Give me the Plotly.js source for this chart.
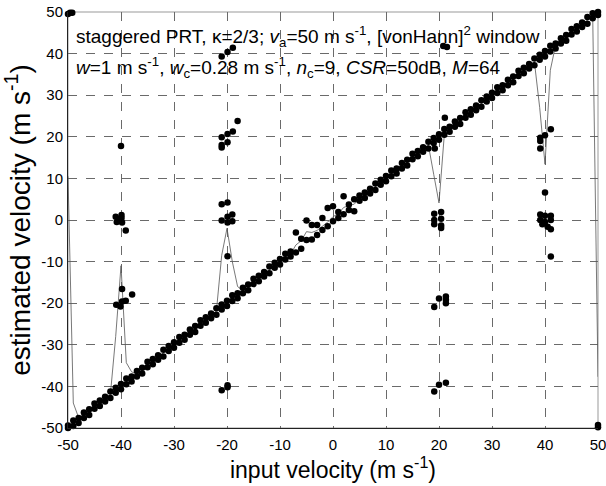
<!DOCTYPE html>
<html>
<head>
<meta charset="utf-8">
<script src="https://cdn.plot.ly/plotly-3.0.1.min.js"></script>
<style>html,body{margin:0;padding:0;background:#fff;}#chart{width:606px;height:486px;}</style>
</head>
<body>
<div id="chart"></div>
<script>
// Input velocities of the main (correct) estimates, m/s
const diagX = [-50,-49,-48,-47,-46,-45,-44,-43,-42,-41,-40,-39,-38,-37,-36,-35,-34,-33,-32,-31,-30,-29,-28,-27,-26,-25,-24,-23,-22,-21,-20,-19,-18,-17,-16,-15,-14,-13,-12,-11,-10,-9,-8,-7,-6,-5,-4,-3,-2,-1,0,1,2,3,4,5,6,7,8,9,10,11,12,13,14,15,16,17,18,19,20,21,22,23,24,25,26,27,28,29,30,31,32,33,34,35,36,37,38,39,40,41,42,43,44,45,46,47,48,49,50];
// Lower and upper estimated velocities of each cluster, m/s
const diagLo = [-50.0,-49.5,-48.8,-47.6,-46.9,-45.4,-44.7,-43.6,-42.8,-41.5,-40.7,-39.5,-38.8,-37.6,-36.9,-35.4,-34.7,-33.6,-32.8,-31.5,-30.7,-29.5,-28.8,-27.6,-26.9,-25.4,-24.7,-23.6,-22.8,-21.5,-20.7,-19.5,-18.8,-17.6,-16.9,-15.4,-14.7,-13.6,-12.8,-11.5,-10.7,-9.5,-8.8,-7.8,-6.9,-4.8,-4.7,-3.6,-2.4,-1.5,-0.3,0.5,1.4,2.4,2.1,4.6,5.3,6.4,7.2,8.5,9.3,10.5,11.2,12.4,13.1,14.6,15.3,16.4,17.2,18.5,19.3,20.5,21.2,22.4,23.1,24.6,25.3,26.4,27.2,28.5,29.3,30.5,31.2,32.4,33.1,34.6,35.3,36.4,37.2,38.5,39.3,40.5,41.2,42.4,43.1,44.6,45.3,46.4,47.2,48.5,49.3];
const diagHi = [-49.4,-48.2,-47.6,-46.3,-45.5,-44.1,-43.4,-42.5,-41.2,-40.3,-39.4,-38.1,-37.6,-36.3,-35.5,-34.1,-33.4,-32.5,-31.2,-30.3,-29.4,-28.1,-27.6,-26.3,-25.5,-24.1,-23.4,-22.5,-21.2,-20.3,-19.4,-18.1,-17.6,-16.3,-15.5,-14.1,-13.4,-12.5,-11.2,-10.3,-9.4,-8.1,-7.6,-3.0,-4.5,-0.1,-1.2,-1.2,0.5,2.9,3.3,1.9,5.7,3.7,5.0,5.9,6.6,7.5,8.8,9.7,10.6,11.9,12.4,13.7,14.5,15.9,16.6,17.5,18.8,19.7,20.6,21.9,22.4,23.7,24.5,25.9,26.6,27.5,28.8,29.7,30.6,31.9,32.4,33.7,34.5,35.9,36.6,37.5,38.8,39.7,40.6,41.9,42.4,43.7,44.5,45.9,46.6,47.5,48.8,49.7,50.0];
// Aliased / wrong estimates (input, estimate), m/s
const outX = [-50.0,-49.6,-49.2,
  -40.0,-41.0,-40.8,-40.3,-39.9,-39.8,-39.9,-39.1,-39.8,-40.9,-40.1,-39.8,-39.1,-37.9,
  -21.0,-19.9,-18.9,-18.0,-18.9,-19.9,-21.0,-21.0,-21.0,-19.9,-21.0,-19.9,-21.0,-19.9,-19.9,-19.0,-19.0,-19.9,-21.0,-19.9,-19.9,
  20.8,21.5,19.2,21.1,19.1,20.4,19.1,20.4,19.1,20.4,20.4,19.1,20.0,21.3,21.3,21.3,19.1,20.0,21.3,
  39.1,39.1,39.1,40.0,41.1,40.0,39.1,40.0,41.1,39.1,40.0,41.1,39.5,40.5,41.1,41.1,
  50.0,50.0];
const outY = [49.5,49.8,49.8,
  17.8,0.8,-0.5,0.2,1.2,-0.6,0.5,-2.5,-16.6,-20.4,-20.8,-19.6,-19.4,-17.9,
  39.3,40.4,41.4,23.8,21.3,20.7,19.9,18.0,17.4,18.7,3.8,4.2,-0.1,0.8,-0.6,1.3,-0.3,-8.7,-40.9,-39.7,-40.2,
  41.8,41.6,17.2,24.6,1.5,1.9,0.0,0.3,-1.0,-1.3,-1.9,-20.9,-18.9,-18.4,-19.2,-20.0,-41.2,-39.6,-39.1,
  19.8,19.0,17.2,20.4,21.8,6.6,1.3,1.0,1.0,0.0,-0.5,0.0,-1.0,-1.6,-2.2,-8.8,
  -49.3,-49.8];
// Mean estimated velocity (thin line), m/s
const meanX = diagX;
const meanY = [10.5,-44.0,-47.5,-46.9,-46.2,-44.8,-44.0,-43.0,-41.9,-28.0,-11.0,-34.3,-36.5,-37.0,-36.2,-34.8,-34.0,-33.0,-32.0,-30.9,-30.0,-28.8,-28.2,-27.0,-26.2,-24.8,-24.0,-23.0,-21.9,-8.5,-2.0,-10.0,-16.0,-17.0,-16.2,-14.8,-14.0,-13.0,-12.0,-10.9,-10.0,-8.8,-8.2,-6.0,-5.0,-2.8,-3.0,-2.5,-1.5,-0.5,0.8,1.5,3.0,3.5,3.8,5.2,5.9,7.0,8.0,9.1,10.0,11.2,11.8,13.0,13.8,15.2,16.0,17.0,18.0,11.0,4.1,20.5,22.0,23.0,23.8,25.2,26.0,27.0,28.0,29.1,30.0,31.2,31.8,33.0,33.8,35.2,36.0,37.0,38.0,27.0,13.4,36.0,42.0,43.0,43.8,45.2,46.0,47.0,48.0,49.3,-37.7];
const ticks = [-50,-40,-30,-20,-10,0,10,20,30,40,50];
const tickText = ['-50','-40','-30','-20','-10','0','10','20','30','40','50'];

const ptsX = [], ptsY = [];
for (let i = 0; i < diagX.length; i++) {
  ptsX.push(diagX[i], diagX[i]); ptsY.push(diagLo[i], diagHi[i]);
}
for (let i = 0; i < outX.length; i++) { ptsX.push(outX[i]); ptsY.push(outY[i]); }

const FONT = 'Liberation Sans, Arial, Helvetica, sans-serif';
const traces = [
  {x: meanX, y: meanY, type: 'scatter', mode: 'lines', line: {color: '#555', width: 0.8}, hoverinfo: 'skip', cliponaxis: false},
  {x: ptsX, y: ptsY, type: 'scatter', mode: 'markers', marker: {color: '#000', size: 6.5}, cliponaxis: false}
];
const axisCommon = {
  range: [-50, 50], tickvals: ticks, ticktext: tickText, showgrid: true,
  gridcolor: '#6a6a6a', griddash: 'dash', gridwidth: 1, zeroline: false,
  showline: true, linecolor: '#222', linewidth: 1, ticks: '', mirror: false,
  ticklabeloverflow: 'allow',
  tickfont: {family: FONT, size: 15, color: '#000'}
};
const layout = {
  width: 606, height: 486,
  margin: {l: 68, r: 8, t: 12, b: 58},
  paper_bgcolor: '#fff', plot_bgcolor: '#fff',
  showlegend: false,
  xaxis: Object.assign({}, axisCommon, {
    ticklabelstandoff: 3,
    title: {text: 'input velocity (m s<sup>-1</sup>)', font: {family: FONT, size: 23, color: '#000'}, standoff: 4}
  }),
  yaxis: Object.assign({}, axisCommon, {
    ticklabelstandoff: 1,
    title: {text: 'estimated velocity (m s<sup>-1</sup>)', font: {family: FONT, size: 28, color: '#000'}, standoff: 2}
  }),
  shapes: [{type: 'rect', xref: 'paper', yref: 'paper', x0: 0, x1: 1, y0: 0, y1: 1, line: {color: '#999', width: 1}, layer: 'below'}],
  annotations: [
    {xref: 'x', yref: 'y', x: -48.9, y: 44, xanchor: 'left', yanchor: 'middle', showarrow: false,
     text: 'staggered PRT, \u03ba=2/3; <i>v</i><sub>a</sub>=50 m s<sup>-1</sup>, [vonHann]<sup>2</sup> window',
     font: {family: FONT, size: 19, color: '#000'}},
    {xref: 'x', yref: 'y', x: -48.9, y: 36.6, xanchor: 'left', yanchor: 'middle', showarrow: false,
     text: '<i>w</i>=1 m s<sup>-1</sup>, <i>w</i><sub>c</sub>=0.28 m s<sup>-1</sup>, <i>n</i><sub>c</sub>=9, <i>CSR</i>=50dB, <i>M</i>=64',
     font: {family: FONT, size: 19, color: '#000'}}
  ]
};
Plotly.newPlot('chart', traces, layout, {staticPlot: true, displayModeBar: false});
</script>
</body>
</html>
